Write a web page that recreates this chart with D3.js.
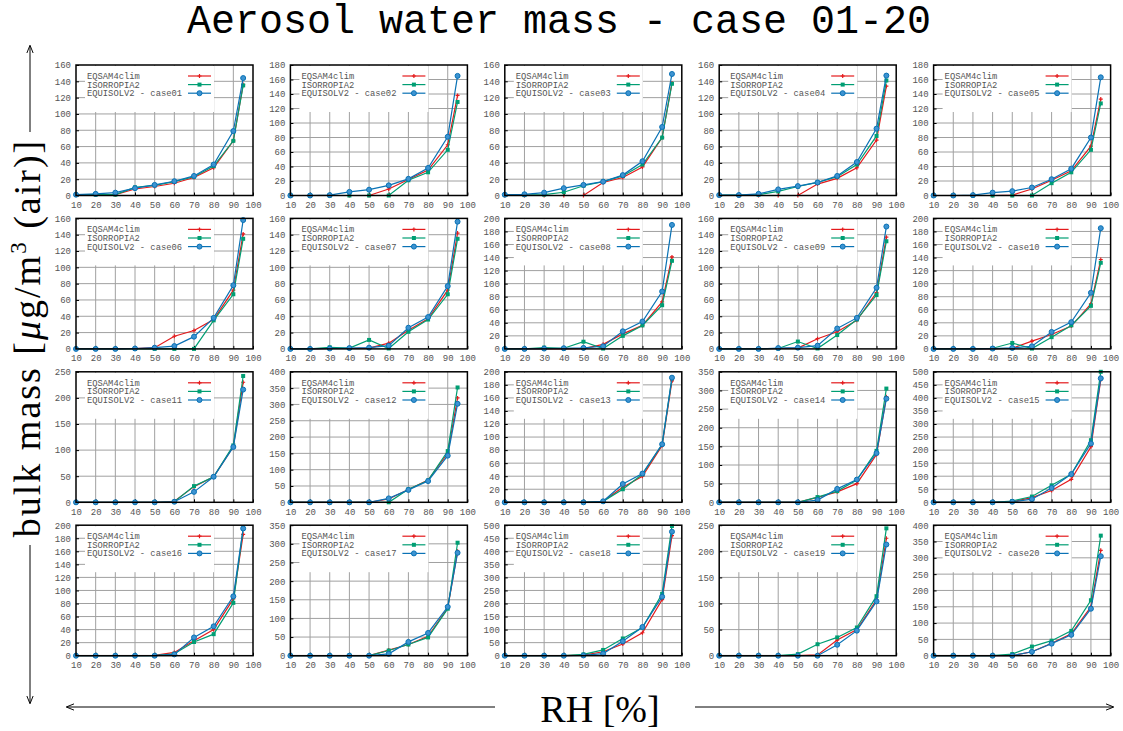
<!DOCTYPE html>
<html>
<head>
<meta charset="utf-8">
<script src="https://cdn.jsdelivr.net/npm/d3@7/dist/d3.min.js"></script>
<style>
  body { margin: 0; background: #fff; }
  svg text { font-family: "Liberation Mono", "DejaVu Sans Mono", monospace; }
</style>
</head>
<body>
<svg id="chart" width="1123" height="731"></svg>
<script>
// relative humidity steps (%) shared by every case
const RH = [10, 20, 30, 40, 50, 60, 70, 80, 90, 95];
const X_TICKS = [10, 20, 30, 40, 50, 60, 70, 80, 90, 100];
const CASES = ['case01','case02','case03','case04','case05','case06','case07','case08','case09','case10',
               'case11','case12','case13','case14','case15','case16','case17','case18','case19','case20'];
const Y_MAX  = [160,180,160,160,180, 160,160,200,160,200, 250,400,200,350,500, 200,350,500,250,400];
const Y_STEP = [20,20,20,20,20, 20,20,20,20,20, 50,50,20,50,50, 20,50,50,50,50];
const MODELS = ['EQSAM4clim', 'ISORROPIA2', 'EQUISOLV2'];

// bulk aerosol water mass, one row per case
const EQSAM = [
  [1,1,1,8,11,15,22,34,67,136],
  [0,0,0,0,0,9,22,35,70,138],
  [0,0,0,0,0,16,22,35,71,138],
  [0,0,0,0,0,14,21,34,68,134],
  [0,0,0,0,0.5,9,21,34,68,133],
  [0,0,0,0.5,1.5,15.5,22.5,36,72,141],
  [0,0,0.5,0.5,1,7,23,37,72,142],
  [0,0,0,0,0.5,7,23,36,72,141],
  [0,0,0,0.5,1,12.5,21,35,69,137],
  [0,0,0,0,1,12,22,35,69,137],
  [0,0,0,0,0,2,30,49,107,230],
  [0,0,0,0,0,10,39,68,150,320],
  [0,0,0,0,0,1.5,23,40,87,186],
  [0,0,0,0,0,13,28,50,128,283],
  [0,0,0,0,2,18,45,88,213,470],
  [0,0,0,0,0.5,5,23,40,87,186],
  [0,0,0,0,0,15,30,52,128,280],
  [0,0,0,0,2,15,45,88,215,460],
  [0,0,0,0,0,1.5,30,50,107,225],
  [0,0,0,0,0,12,38,67,150,323]
];
const ISORROPIA = [
  [1,1,1,10,12.5,17,23,36,67,135],
  [0,0,0,0,0,0,21,32,63,129],
  [0.5,0.5,1,4,12,17,24,38,71,137],
  [0.5,0.5,1,5,11,16,23,38,73,141],
  [0,0,0,0,0,0,17,32,63,127],
  [0,0,0,0,0,0,0,35,67,135],
  [0,0,2,1,11,0.5,21,36,67,135],
  [0,0,2,1,11,0.5,20,36,67,135],
  [0,0,0,0.5,9,0.5,17,36,66,132],
  [0,0,0,1,9,0.5,18,36,66,132],
  [0,0,0,0,0,1,31,49,109,242],
  [0,0,0,0,0,0,40,67,157,352],
  [0,0,0,0,0,1.5,20,43,89,190],
  [0,0,0,0,0,14,30,60,138,305],
  [0,0,0,0,5,22,65,107,238,500],
  [0,0,0,0,0,3,21,33,81,195],
  [0,0,0,0,0,14,30,49,126,303],
  [0,0,0,0,5,22,66,108,237,497],
  [0,0,0,0,3,22,35,54,114,244],
  [0,0,0,0,5,28,46,76,170,368]
];
const EQUISOLV = [
  [1,2,3.5,9,13,17.5,24,38,79,144],
  [0,0,0.5,5,8,14,23,38,81,165],
  [1,1.5,3.5,9,13,17,25,42,84,149],
  [0.5,0.5,2,7.5,11.5,16,24,41,82,147],
  [0,0,0.5,4,6,11,22.5,37,80,163],
  [0,0,0,0.5,1.5,3.5,15,38,78,158],
  [0,0,0.5,1,1.5,4,26,39,77,156],
  [0,0,0.5,1,1.5,4,27,42,88,190],
  [0,0,0,1,1.5,4,25,38,75,150],
  [0,0,0,0.5,1.5,4,26,41,86,185],
  [0,0,0,0,0,1,20,49,106,216],
  [0,0,0,0,0,12,38,65,143,302],
  [0,0,0,0,0,1.5,28,44,89,191],
  [0,0,0,0,0,6,36,61,132,278],
  [0,0,0,0,2,12,55,108,225,475],
  [0,0,0,0,0,2,28,45,91,195],
  [0,0,0,0,0,5,37,61,131,276],
  [0,0,0,0,1,8,55,110,226,475],
  [0,0,0,0,0,0,21,48,104,213],
  [0,0,0,0,0,12,37,64,144,305]
];

const SmallMultiples = function(){
  const PW = 177, PH = 130.5,
        LEFT0 = 76, COL_STEP = 214.4,
        TOP0 = 65, ROW_STEP = 153.4,
        COLS = 5,
        LABEL_CLR = '#555',
        GRID_CLR = '#a0a0a0',
        SERIF = '"Liberation Serif", "DejaVu Serif", serif';

  const STYLES = [
    { color: '#e41a1c', marker: 'plus' },
    { color: '#009e73', marker: 'square' },
    { color: '#0a72b5', marker: 'circle' }
  ];

  const drawMarker = (g, type, color, cx, cy) => {
    if (type === 'plus') {
      g.append('path')
        .attr('d', `M${cx-2},${cy}H${cx+2}M${cx},${cy-2}V${cy+2}`)
        .attr('stroke', color).attr('stroke-width', 1.2).attr('fill', 'none');
    } else if (type === 'square') {
      g.append('rect')
        .attr('x', cx-2).attr('y', cy-2).attr('width', 4).attr('height', 4)
        .attr('fill', color);
    } else {
      g.append('circle')
        .attr('cx', cx).attr('cy', cy).attr('r', 2.5)
        .attr('fill', '#3d93d1').attr('stroke', color).attr('stroke-width', 1);
    }
  };

  const panel = (svg, i) => {
    const col = i % COLS, row = Math.floor(i / COLS);
    const left = LEFT0 + col * COL_STEP, top = TOP0 + row * ROW_STEP;
    const ymax = Y_MAX[i], ystep = Y_STEP[i];
    const yTicks = d3.range(0, ymax + 0.1, ystep);

    const x = d3.scaleLinear().domain([10, 100]).range([0, PW]);
    const y = d3.scaleLinear().domain([0, ymax]).range([PH, 0]);

    const g = svg.append('g').attr('transform', `translate(${left},${top})`);

    // grid
    g.append('g').selectAll('line').data(yTicks.slice(1, -1)).join('line')
      .attr('x1', 0).attr('x2', PW)
      .attr('y1', d => y(d)).attr('y2', d => y(d))
      .attr('stroke', GRID_CLR).attr('stroke-width', 1);
    g.append('g').selectAll('line').data(X_TICKS.slice(1, -1)).join('line')
      .attr('x1', d => x(d)).attr('x2', d => x(d))
      .attr('y1', 0).attr('y2', PH)
      .attr('stroke', GRID_CLR).attr('stroke-width', 1);

    // axes
    const ya = g.append('g')
      .call(d3.axisLeft(y).tickValues(yTicks).tickSize(-3).tickPadding(5));
    const xa = g.append('g').attr('transform', `translate(0,${PH})`)
      .call(d3.axisBottom(x).tickValues(X_TICKS).tickSize(-3).tickPadding(6));
    [ya, xa].forEach(a => {
      a.select('.domain').remove();
      a.selectAll('line').attr('stroke', '#000');
      a.selectAll('text').attr('fill', LABEL_CLR).style('font-size', '9px')
        .style('font-family', '"Liberation Mono", monospace');
    });

    // opaque key box
    g.append('rect')
      .attr('x', 9).attr('y', 1).attr('width', 129).attr('height', 46)
      .attr('fill', '#fff');

    // series
    const line = d3.line().x((d, j) => x(RH[j])).y(d => y(d));
    [EQSAM[i], ISORROPIA[i], EQUISOLV[i]].forEach((vals, k) => {
      const st = STYLES[k];
      g.append('path').datum(vals)
        .attr('d', line)
        .attr('fill', 'none')
        .attr('stroke', st.color)
        .attr('stroke-width', 1.2);
      vals.forEach((v, j) => drawMarker(g, st.marker, st.color, x(RH[j]), y(v)));
    });

    // key
    const labels = [MODELS[0], MODELS[1], `${MODELS[2]} - ${CASES[i]}`];
    labels.forEach((lab, k) => {
      const ky = 11 + k * 8.6;
      g.append('text')
        .attr('x', 11).attr('y', ky + 3)
        .attr('fill', LABEL_CLR)
        .style('font-size', '8.8px')
        .text(lab);
      g.append('line')
        .attr('x1', 112).attr('x2', 135).attr('y1', ky).attr('y2', ky)
        .attr('stroke', STYLES[k].color).attr('stroke-width', 1.2);
      drawMarker(g, STYLES[k].marker, STYLES[k].color, 123.5, ky);
    });

    // border
    g.append('rect')
      .attr('width', PW).attr('height', PH)
      .attr('fill', 'none').attr('stroke', '#000').attr('stroke-width', 1.5);
  };

  const arrow = (svg, x1, y1, x2, y2) => {
    svg.append('line')
      .attr('x1', x1).attr('y1', y1).attr('x2', x2).attr('y2', y2)
      .attr('stroke', '#000').attr('stroke-width', 1)
      .attr('marker-end', 'url(#arr)');
  };

  const draw = () => {
    const svg = d3.select('#chart');

    svg.append('defs').append('marker')
      .attr('id', 'arr').attr('viewBox', '0 0 10 10')
      .attr('refX', 9).attr('refY', 5)
      .attr('markerWidth', 8).attr('markerHeight', 8)
      .attr('markerUnits', 'userSpaceOnUse')
      .attr('orient', 'auto')
      .append('path').attr('d', 'M0,1L10,5L0,9').attr('fill', 'none')
      .attr('stroke', '#000').attr('stroke-width', 1.2);

    svg.append('text')
      .attr('x', 559).attr('y', 33)
      .attr('text-anchor', 'middle')
      .style('font-size', '40px')
      .text('Aerosol water mass - case 01-20');

    CASES.forEach((c, i) => panel(svg, i));

    // y label
    const yl = svg.append('text')
      .attr('transform', 'translate(40,338) rotate(-90)')
      .attr('text-anchor', 'middle')
      .style('font-family', SERIF)
      .style('font-size', '38px')
      .style('letter-spacing', '2px');
    yl.append('tspan').text('bulk mass [');
    yl.append('tspan').style('font-style', 'italic').text('μ');
    yl.append('tspan').text('g/m');
    yl.append('tspan').attr('dy', -14).style('font-size', '23px').text('3');
    yl.append('tspan').attr('dy', 14).text(' (air)]');
    arrow(svg, 30, 132, 30, 46);
    arrow(svg, 30, 545, 30, 703);

    // x label
    svg.append('text')
      .attr('x', 600).attr('y', 722)
      .attr('text-anchor', 'middle')
      .style('font-family', SERIF)
      .style('font-size', '38px')
      .text('RH [%]');
    arrow(svg, 495, 707, 67, 707);
    arrow(svg, 695, 707, 1113, 707);
  };

  return { draw: draw };
}();

SmallMultiples.draw();
</script>
</body>
</html>
